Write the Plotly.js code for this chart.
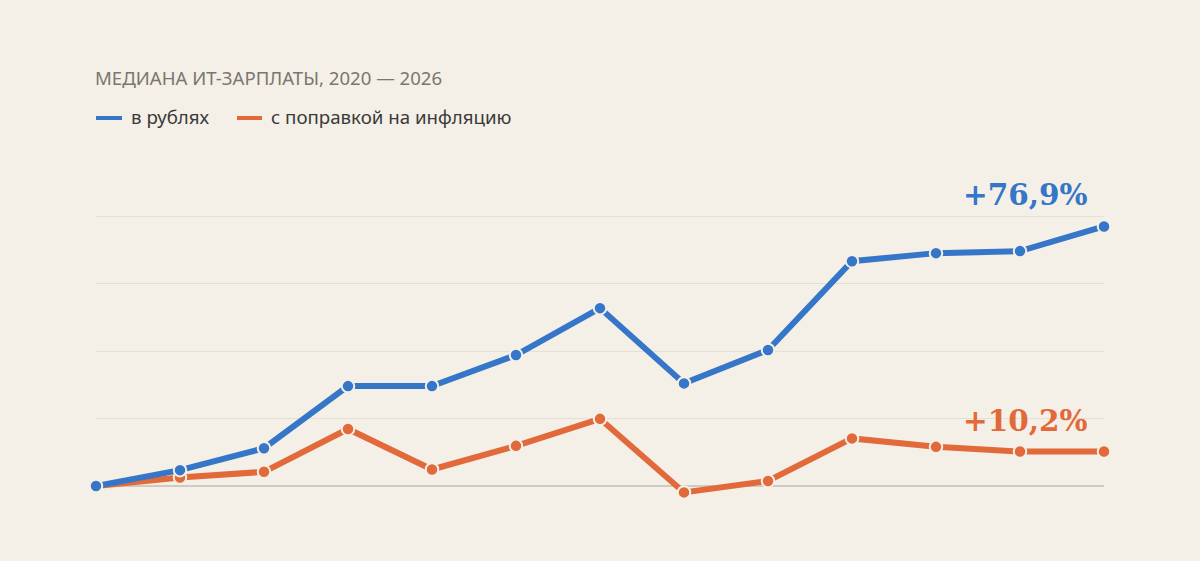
<!DOCTYPE html>
<html>
<head>
<meta charset="utf-8">
<script src="https://cdn.plot.ly/plotly-3.0.1.min.js"></script>
<style>
  html, body { margin: 0; padding: 0; background: #f4f0e7; }
  #chart { width: 1200px; height: 561px; }
</style>
</head>
<body>
<div id="chart"></div>
<script>
// Half-year periods, 2020 – 2026
const periods = ["2020 I", "2020 II", "2021 I", "2021 II", "2022 I", "2022 II",
                 "2023 I", "2023 II", "2024 I", "2024 II", "2025 I", "2025 II", "2026 I"];
// Cumulative change of the median IT salary, % vs. the first period
const nominal = [0, 4.7, 11.2, 29.6, 29.6, 38.8, 52.7, 30.4, 40.3, 66.6, 69.0, 69.6, 76.9];
const real    = [0, 2.5, 4.2, 16.9, 4.9, 11.9, 19.9, -1.9, 1.5, 14.1, 11.6, 10.2, 10.2];
const seriesNames = ["в рублях", "с поправкой на инфляцию"];
const finalLabels = ["+76,9%", "+10,2%"];
const yTicks = [0, 20, 40, 60, 80];

const BG = "#f4f0e7";
const BLUE = "#3676c8";
const ORANGE = "#e2693a";

// plot area geometry (pixels)
const W = 1200, H = 561;
const mL = 96, mR = 96, mT = 203, mB = 61;
const plotH = H - mT - mB;
const pxPerUnit = 3.375;
const zeroPx = 486;
const yTop = (zeroPx - mT) / pxPerUnit;
const yBottom = -(H - mB - zeroPx) / pxPerUnit;

const xIdx = periods.map((_, i) => i);

function lineTrace(values, color, name) {
  return {
    x: xIdx, y: values, name: name, type: "scatter", mode: "lines+markers",
    line: { color: color, width: 6 },
    marker: { color: color, size: 12.5, line: { color: BG, width: 2 } },
    cliponaxis: false, showlegend: false, hoverinfo: "skip"
  };
}

const traces = [
  lineTrace(real, ORANGE, seriesNames[1]),
  lineTrace(nominal, BLUE, seriesNames[0])
];

// helpers to place legend items by pixel
const px2paperX = p => (p - mL) / (W - mL - mR);
const px2paperY = p => (H - mB - p) / plotH;

const legendLineY = 118;
const legendTextY = 116.5;
const legendItems = [
  { x0: 96, x1: 122, tx: 129, color: BLUE, text: seriesNames[0] },
  { x0: 237, x1: 262, tx: 269, color: ORANGE, text: seriesNames[1] }
];

const shapes = legendItems.map(it => ({
  type: "line", xref: "paper", yref: "paper",
  x0: px2paperX(it.x0), x1: px2paperX(it.x1),
  y0: px2paperY(legendLineY), y1: px2paperY(legendLineY),
  line: { color: it.color, width: 4 }
}));

const annotations = legendItems.map(it => ({
  xref: "paper", yref: "paper",
  x: px2paperX(it.tx), y: px2paperY(legendTextY),
  xanchor: "left", yanchor: "middle", showarrow: false,
  text: it.text,
  font: { family: "Noto Sans, sans-serif", size: 18.7, color: "#3a3a3a" }
}));

const last = periods.length - 1;
const labelFont = { family: "DejaVu Serif, serif", size: 29.5 };
annotations.push({
  x: last, y: nominal[last], xref: "x", yref: "y",
  xanchor: "right", yanchor: "bottom", xshift: -14, yshift: 12,
  showarrow: false, text: "<b>" + finalLabels[0] + "</b>",
  font: Object.assign({ color: BLUE }, labelFont)
});
annotations.push({
  x: last, y: real[last], xref: "x", yref: "y",
  xanchor: "right", yanchor: "bottom", xshift: -14, yshift: 12,
  showarrow: false, text: "<b>" + finalLabels[1] + "</b>",
  font: Object.assign({ color: ORANGE }, labelFont)
});

const layout = {
  width: W, height: H,
  paper_bgcolor: BG, plot_bgcolor: BG,
  margin: { l: mL, r: mR, t: mT, b: mB },
  title: {
    text: "МЕДИАНА ИТ-ЗАРПЛАТЫ, 2020 — 2026",
    xref: "container", yref: "container",
    x: 95 / W, xanchor: "left",
    y: 1 - 78.5 / H, yanchor: "middle",
    font: { family: "Noto Sans, sans-serif", size: 18.6, color: "#7a7670" }
  },
  xaxis: {
    range: [0, last], showgrid: false, zeroline: false,
    showticklabels: false, ticks: "", fixedrange: true
  },
  yaxis: {
    range: [yBottom, yTop], tickvals: yTicks, showticklabels: false,
    showgrid: true, gridcolor: "#e4e0d6", gridwidth: 1,
    zeroline: true, zerolinecolor: "#cfcbc2", zerolinewidth: 1.5,
    ticks: "", fixedrange: true
  },
  shapes: shapes,
  annotations: annotations,
  showlegend: false
};

Plotly.newPlot("chart", traces, layout, { displayModeBar: false, staticPlot: true });
</script>
</body>
</html>
